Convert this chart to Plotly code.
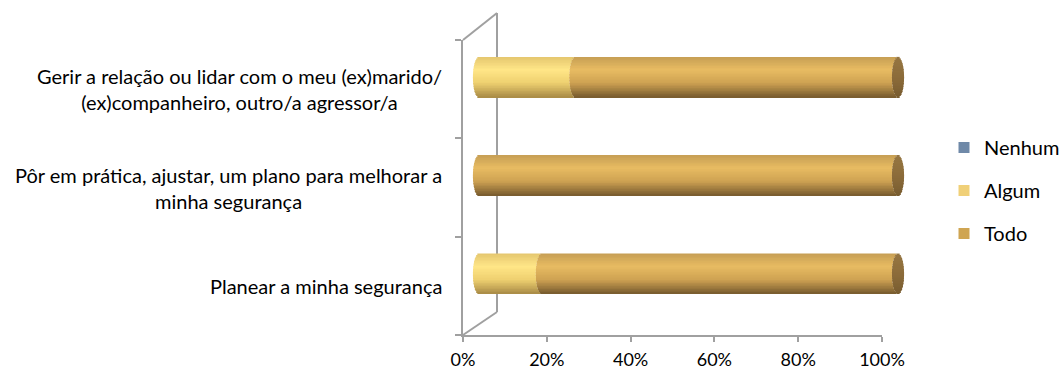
import numpy as np
import plotly.graph_objects as go

# Categories listed bottom-to-top (axis order)
categories = [
    "Planear a minha segurança",
    "Pôr em prática, ajustar, um plano para melhorar a<br>minha segurança",
    "Gerir a relação ou lidar com o meu (ex)marido/<br>(ex)companheiro, outro/a agressor/a",
]
series_names = ["Nenhum", "Algum", "Todo"]
nenhum = [0.0, 0.0, 0.0]
algum = [0.15, 0.0, 0.23]
todo = [0.85, 1.0, 0.77]
x_tick_vals = [0, 0.2, 0.4, 0.6, 0.8, 1.0]
x_tick_text = ["0%", "20%", "40%", "60%", "80%", "100%"]

W, H = 1060, 370
FONT = "Lato"
AXIS_GRAY = "#A0A0A0"

legend_colors = {"Nenhum": "#6F89A8", "Algum": "#F0D078", "Todo": "#CFA552"}

# vertical shading stops (top -> bottom) for the cylinder look
shade = {
    "Nenhum": [(0.0, (90, 115, 150)), (0.35, (130, 155, 190)), (0.7, (100, 125, 160)), (1.0, (60, 80, 110))],
    "Algum": [(0.0, (228, 198, 110)), (0.32, (255, 230, 135)), (0.65, (238, 208, 112)), (1.0, (168, 138, 70))],
    "Todo": [(0.0, (198, 158, 84)), (0.32, (232, 188, 98)), (0.65, (206, 162, 82)), (1.0, (118, 90, 46))],
    "cap": [(0.0, (150, 118, 66)), (0.5, (140, 108, 58)), (1.0, (120, 92, 48))],
}


def shade_color(stops, t):
    for (t0, c0), (t1, c1) in zip(stops[:-1], stops[1:]):
        if t0 <= t <= t1:
            f = (t - t0) / (t1 - t0) if t1 > t0 else 0
            c = [round(a + (b - a) * f) for a, b in zip(c0, c1)]
            return "rgb(%d,%d,%d)" % tuple(c)
    return "rgb(%d,%d,%d)" % stops[-1][1]


fig = go.Figure()

y_pos = list(range(len(categories)))
bar_w = 0.41          # bar thickness in category units
n_strips = 26
strip_h = bar_w / n_strips
r_end = 0.0145        # half-width of the elliptical ends, in axis units

values = {"Nenhum": nenhum, "Algum": algum, "Todo": todo}
totals = [a + b + c for a, b, c in zip(nenhum, algum, todo)]

for i in range(n_strips):
    t = (i + 0.5) / n_strips
    u = 1 - 2 * t
    bulge = r_end * np.sqrt(max(0.0, 1 - u * u))
    offset = bar_w / 2 - (i + 1) * strip_h
    cum = [0.0] * len(categories)
    for name in series_names:
        vals = values[name]
        base = [c - bulge for c in cum]
        fig.add_trace(go.Bar(
            x=vals, y=y_pos, base=base, orientation="h",
            offset=offset, width=strip_h * 1.08,
            marker=dict(color=shade_color(shade[name], t), line=dict(width=0)),
            xaxis="x2", yaxis="y2", showlegend=False, hoverinfo="skip",
        ))
        cum = [c + v for c, v in zip(cum, vals)]
    # flat end cap on the right of each cylinder
    fig.add_trace(go.Bar(
        x=[2 * bulge] * len(categories), y=y_pos,
        base=[tot - bulge for tot in totals], orientation="h",
        offset=offset, width=strip_h * 1.08,
        marker=dict(color=shade_color(shade["cap"], t), line=dict(width=0)),
        xaxis="x2", yaxis="y2", showlegend=False, hoverinfo="skip",
    ))

# legend entries
for k, name in enumerate(series_names):
    fig.add_trace(go.Scatter(
        x=[None], y=[None], mode="markers", name=name,
        legendgroup=name,
        marker=dict(symbol="square", size=11, color=legend_colors[name]),
        xaxis="x", yaxis="y",
    ))

# pixel helpers for the frame
def px_x(p):
    return p / W


def px_y(p):
    return 1 - p / H


front_left, front_right = 463, 882
front_top, front_bottom = 40, 335
dx, back_top, back_bottom = 34, 13, 312
shift_x, shift_y = 16, -12

# bar axes: same scale as the front axis, shifted into the depth of the box,
# with a little padding so the rounded ends are not clipped
pad = 0.05
span = front_right - front_left
bar_x0 = front_left + shift_x - pad * span
bar_x1 = front_right + shift_x + pad * span

line = dict(color=AXIS_GRAY, width=2)
shapes = [
    dict(type="line", xref="paper", yref="paper", x0=px_x(front_left), y0=px_y(front_top),
         x1=px_x(front_left + dx), y1=px_y(back_top), line=line, layer="below"),
    dict(type="line", xref="paper", yref="paper", x0=px_x(front_left + dx), y0=px_y(back_top),
         x1=px_x(front_left + dx), y1=px_y(back_bottom), line=line, layer="below"),
    dict(type="line", xref="paper", yref="paper", x0=px_x(front_left), y0=px_y(front_bottom),
         x1=px_x(front_left + dx), y1=px_y(back_bottom), line=line, layer="below"),
]

annotations = []
for k, cat in enumerate(categories):
    annotations.append(dict(
        x=px_x(444), xref="paper", xanchor="right",
        y=k + 0.5, yref="y", yanchor="middle",
        text=cat, showarrow=False, align="center",
        font=dict(family=FONT, size=20, color="#000000"),
    ))

fig.update_layout(
    width=W, height=H,
    margin=dict(l=0, r=0, t=0, b=0, autoexpand=False),
    paper_bgcolor="white", plot_bgcolor="rgba(0,0,0,0)",
    barmode="overlay",
    font=dict(family=FONT, size=20, color="#000000"),
    xaxis=dict(
        domain=[px_x(front_left), px_x(front_right)], range=[0, 1],
        anchor="y", tickvals=x_tick_vals, ticktext=x_tick_text,
        showline=True, linecolor=AXIS_GRAY, linewidth=2,
        ticks="outside", ticklen=5, tickcolor=AXIS_GRAY, tickwidth=2,
        showgrid=False, zeroline=False, fixedrange=True,
        tickfont=dict(family=FONT, size=18, color="#000000"),
        ticklabelstandoff=2,
    ),
    yaxis=dict(
        domain=[px_y(front_bottom), px_y(front_top)], range=[0, 3],
        anchor="x", tickvals=[0, 1, 2, 3], showticklabels=False,
        showline=True, linecolor=AXIS_GRAY, linewidth=2,
        ticks="outside", ticklen=6, tickcolor=AXIS_GRAY, tickwidth=2,
        showgrid=False, zeroline=False, fixedrange=True,
    ),
    xaxis2=dict(
        domain=[px_x(bar_x0), px_x(bar_x1)], range=[-pad, 1 + pad],
        anchor="y2", visible=False, fixedrange=True,
    ),
    yaxis2=dict(
        domain=[px_y(front_bottom + shift_y), px_y(front_top + shift_y)], range=[-0.5, 2.5],
        anchor="x2", visible=False, fixedrange=True,
    ),
    legend=dict(
        x=px_x(944), y=px_y(128), xanchor="left", yanchor="top",
        font=dict(family=FONT, size=20, color="#000000"),
        tracegroupgap=14, itemwidth=30,
        bgcolor="rgba(0,0,0,0)",
    ),
    shapes=shapes,
    annotations=annotations,
)

fig.write_html("out.html")
